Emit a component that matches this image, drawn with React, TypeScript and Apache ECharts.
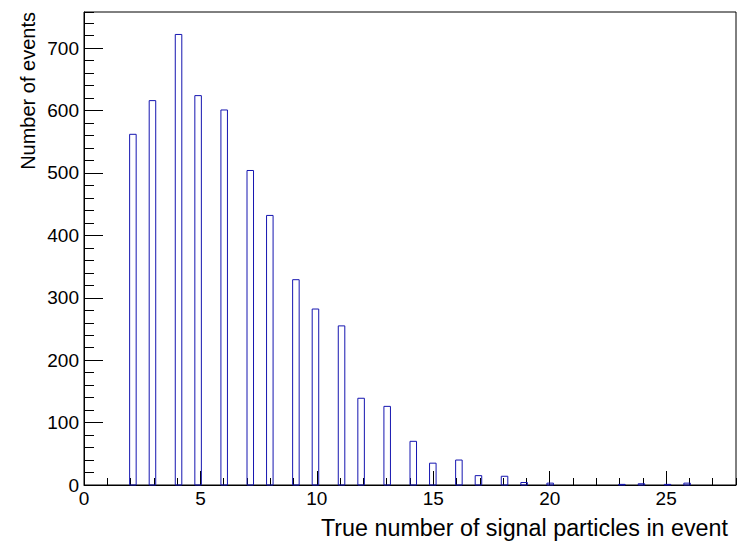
import React, { useEffect, useRef } from "react";
import * as echarts from "echarts";

// Histogram contents: number of signal particles -> number of events
const particleCounts = [2, 3, 4, 5, 6, 7, 8, 9, 10, 11, 12, 13, 14, 15, 16, 17, 18, 19, 20, 21, 22, 23, 24, 25, 26];
const eventCounts = [562, 616, 722, 624, 601, 504, 432, 329, 282, 255, 139, 126, 70, 35, 40, 15, 14, 4, 3, 0, 0, 1, 2, 1, 3];

// Histogram binning (100 bins from 0 to 28)
const binWidth = 0.28;
const xMin = 0;
const xMax = 28;
const yMin = 0;
const yMax = 758;

// Axis ticks
const xMajorTicks = [0, 5, 10, 15, 20, 25];
const yMajorTicks = [0, 100, 200, 300, 400, 500, 600, 700];

const xTitle = "True number of signal particles in event";
const yTitle = "Number of events";

const FONT = "Liberation Sans, Arial, Helvetica, sans-serif";

export default function App() {
  const ref = useRef<HTMLDivElement>(null);

  useEffect(() => {
    if (!ref.current) return;
    const chart = echarts.init(ref.current, undefined, { renderer: "svg" });

    const data = particleCounts
      .map((n, i) => {
        const bin = Math.floor(n / binWidth + 1e-9);
        return [bin * binWidth, (bin + 1) * binWidth, eventCounts[i]];
      })
      .filter((d) => d[2] > 0);

    const option: any = {
      animation: false,
      backgroundColor: "#ffffff",
      grid: {
        left: 84,
        right: 3,
        top: 12,
        bottom: 59,
        show: true,
        borderColor: "#000",
        borderWidth: 1,
        backgroundColor: "transparent",
      },
      xAxis: [
        {
          type: "value",
          position: "bottom",
          min: xMin,
          max: xMax,
          interval: 5,
          axisLine: { show: true, lineStyle: { color: "#000", width: 1 } },
          axisTick: {
            show: true,
            inside: true,
            length: 14,
            customValues: xMajorTicks,
            lineStyle: { color: "#000", width: 1 },
          },
          axisLabel: {
            show: true,
            customValues: xMajorTicks,
            margin: 4,
            fontSize: 19,
            fontFamily: FONT,
            color: "#000",
          },
          splitLine: { show: false },
        },
        {
          type: "value",
          position: "bottom",
          min: xMin,
          max: xMax,
          interval: 1,
          axisLine: { show: false },
          axisTick: {
            show: true,
            inside: true,
            length: 7,
            lineStyle: { color: "#000", width: 1 },
          },
          axisLabel: { show: false },
          splitLine: { show: false },
        },
      ],
      yAxis: [
        {
          type: "value",
          position: "left",
          min: yMin,
          max: yMax,
          interval: 100,
          axisLine: { show: true, lineStyle: { color: "#000", width: 1 } },
          axisTick: {
            show: true,
            inside: true,
            length: 19,
            customValues: yMajorTicks,
            lineStyle: { color: "#000", width: 1 },
          },
          axisLabel: {
            show: true,
            customValues: yMajorTicks,
            margin: 5,
            fontSize: 19,
            fontFamily: FONT,
            color: "#000",
          },
          splitLine: { show: false },
        },
        {
          type: "value",
          position: "left",
          min: yMin,
          max: yMax,
          interval: 20,
          axisLine: { show: false },
          axisTick: {
            show: true,
            inside: true,
            length: 10,
            lineStyle: { color: "#000", width: 1 },
          },
          axisLabel: { show: false },
          splitLine: { show: false },
        },
      ],
      graphic: [
        {
          type: "text",
          right: 11,
          top: 516,
          style: {
            text: xTitle,
            fontSize: 23.3,
            fontFamily: FONT,
            fill: "#000",
          },
        },
        {
          type: "text",
          x: 28,
          y: 12,
          rotation: Math.PI / 2,
          style: {
            text: yTitle,
            fontSize: 20,
            fontFamily: FONT,
            fill: "#000",
            align: "right",
            verticalAlign: "middle",
          },
        },
      ],
      series: [
        {
          type: "custom",
          xAxisIndex: 0,
          yAxisIndex: 0,
          data,
          encode: { x: [0, 1], y: 2 },
          renderItem: (params: any, api: any) => {
            const lo = api.value(0);
            const hi = api.value(1);
            const v = api.value(2);
            const p0 = api.coord([lo, 0]);
            const p1 = api.coord([hi, v]);
            return {
              type: "rect",
              shape: {
                x: p0[0],
                y: p1[1],
                width: p1[0] - p0[0],
                height: p0[1] - p1[1],
              },
              style: { fill: "none", stroke: "#1515b0", lineWidth: 1 },
            };
          },
        },
      ],
    };

    chart.setOption(option);
    return () => chart.dispose();
  }, []);

  return (
    <div
      ref={ref}
      style={{ position: "fixed", left: 0, top: 0, width: 739, height: 544 }}
    />
  );
}
